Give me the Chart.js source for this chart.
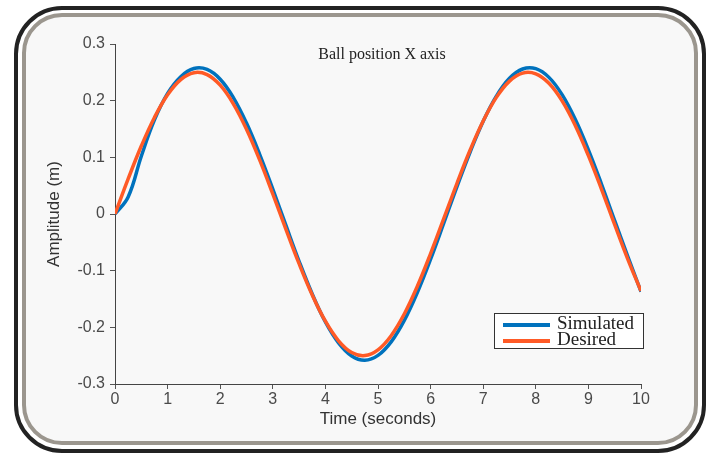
<html>
<head>
<meta charset="utf-8">
<title>Ball position X axis</title>
<script src="https://cdn.jsdelivr.net/npm/chart.js"></script>
<style>
  body { margin: 0; background: #ffffff; }
  #wrap { position: relative; width: 714px; height: 455px; overflow: hidden; }
  #outer { position: absolute; left: 14px; top: 6px; width: 684px; height: 439px;
           border: 4px solid #222; border-radius: 48px; }
  #inner { position: absolute; left: 22px; top: 13px; width: 668px; height: 424px;
           border: 4px solid #9b968e; border-radius: 40px; background: #f8f8f8; }
  #graph { position: absolute; left: 0; top: 0; }
  #legend { position: absolute; left: 494px; top: 313px; width: 148px; height: 34px;
            border: 1px solid #333; background: #ffffff;
            font-family: "Liberation Serif", "Times New Roman", serif; font-size: 19px; color: #222; }
  #legend div { position: absolute; left: 8px; height: 17px; line-height: 17px; white-space: nowrap; }
  #legend span { display: inline-block; width: 47px; height: 4px; vertical-align: middle; margin-right: 7px; }
</style>
</head>
<body>
<div id="wrap">
  <div id="outer"></div>
  <div id="inner"></div>
  <canvas id="graph" width="714" height="455"></canvas>
  <div id="legend">
    <div style="top:0px"><span style="background:#0072bd"></span>Simulated</div>
    <div style="top:16px"><span style="background:#ff5a26"></span>Desired</div>
  </div>
</div>

<script>
  // time samples (seconds)
  var times = [0, 0.25, 0.5, 0.75, 1, 1.25, 1.5, 1.75, 2, 2.25, 2.5, 2.75, 3, 3.25, 3.5, 3.75,
               4, 4.25, 4.5, 4.75, 5, 5.25, 5.5, 5.75, 6, 6.25, 6.5, 6.75, 7, 7.25, 7.5, 7.75,
               8, 8.25, 8.5, 8.75, 9, 9.25, 9.5, 9.75, 10]

  var simulated = [0, 0.03, 0.102, 0.166, 0.2128, 0.2423, 0.2567, 0.2551, 0.2378, 0.2054, 0.1604,
                   0.1054, 0.044, -0.0202, -0.0834, -0.1412, -0.1905, -0.2274, -0.2505, -0.258,
                   -0.2495, -0.2256, -0.1877, -0.138, -0.0796, -0.0163, 0.0479, 0.109, 0.1636,
                   0.2079, 0.2394, 0.2559, 0.2565, 0.2411, 0.2106, 0.1671, 0.1133, 0.0525,
                   -0.0117, -0.0751, -0.137]

  var desired = [0, 0.0619, 0.1199, 0.1704, 0.2104, 0.2372, 0.2494, 0.246, 0.2273, 0.1945, 0.1496,
                 0.0954, 0.0353, -0.027, -0.0877, -0.1429, -0.1892, -0.2237, -0.2444, -0.2498,
                 -0.2397, -0.2147, -0.1764, -0.1271, -0.0699, -0.0083, 0.0538, 0.1125, 0.1642,
                 0.2058, 0.2345, 0.2487, 0.2473, 0.2306, 0.1996, 0.1562, 0.103, 0.0436,
                 -0.0188, -0.0799, -0.136]

  var chartTitle = "Ball position X axis"

  function pts(ys) {
    return times.map((t, i) => ({ x: t, y: ys[i] }))
  }

  // title sits inside the plot area, like the matlab figure
  const innerTitle = {
    id: "innerTitle",
    afterDraw(chart) {
      const ctx = chart.ctx
      const area = chart.chartArea
      ctx.save()
      ctx.font = '16px "Liberation Serif", "Times New Roman", serif'
      ctx.fillStyle = "#222"
      ctx.textAlign = "center"
      ctx.textBaseline = "middle"
      ctx.fillText(chartTitle, (area.left + area.right) / 2 + 4, area.top + 11)
      ctx.restore()
    }
  }

  const tickFont = { family: '"Liberation Sans", Arial, sans-serif', size: 16 }
  const titleFont = { family: '"Liberation Sans", Arial, sans-serif', size: 17 }

  new Chart(document.getElementById("graph"), {
    type: "line",
    data: {
      datasets: [
        { label: "Simulated", data: pts(simulated), borderColor: "#0072bd", borderWidth: 3.5,
          pointRadius: 0, tension: 0.4, order: 1 },
        { label: "Desired", data: pts(desired), borderColor: "#ff5a26", borderWidth: 3.5,
          pointRadius: 0, tension: 0.4, order: 0 }
      ]
    },
    options: {
      responsive: false,
      animation: false,
      layout: { padding: { left: 40, right: 73, top: 44, bottom: 21 } },
      plugins: { legend: { display: false }, tooltip: { enabled: false } },
      scales: {
        x: {
          type: "linear", min: 0, max: 10,
          ticks: { stepSize: 1, color: "#4a4a4a", font: tickFont, padding: 1, maxRotation: 0 },
          grid: { drawOnChartArea: false, drawTicks: true, tickLength: 5, color: "#555" },
          border: { color: "#444", width: 1 },
          title: { display: true, text: "Time (seconds)", color: "#333", font: titleFont, padding: { top: 0 } },
          afterFit: s => { s.height = 50 }
        },
        y: {
          min: -0.3, max: 0.3,
          ticks: { stepSize: 0.1, color: "#4a4a4a", font: tickFont, padding: 5,
                   callback: v => { const r = Math.round(v * 10) / 10; return r === 0 ? "0" : r.toFixed(1) } },
          grid: { drawOnChartArea: false, drawTicks: true, tickLength: 5, color: "#555" },
          border: { color: "#444", width: 1 },
          title: { display: true, text: "Amplitude (m)", color: "#333", font: titleFont, padding: { bottom: 0 } },
          afterFit: s => { s.width = 75 }
        }
      }
    },
    plugins: [innerTitle]
  })
</script>
</body>
</html>
